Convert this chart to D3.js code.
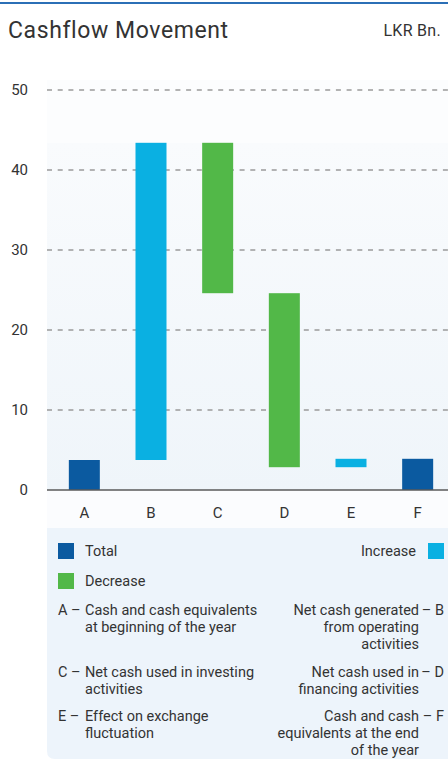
<!DOCTYPE html>
<html>
<head>
<meta charset="utf-8">
<script src="https://cdn.jsdelivr.net/npm/d3@7"></script>
<style>
  html, body { margin: 0; padding: 0; background: #ffffff; }
  svg { display: block; }
  text { font-family: Roboto, "Noto Sans", sans-serif; fill: #333; }
</style>
</head>
<body>
<svg id="chart" width="448" height="761"></svg>
<script>
// ---- data ----
const categories = ["A", "B", "C", "D", "E", "F"];
const lows  = [0, 3.75, 24.6, 2.85, 2.85, 0];
const highs = [3.75, 43.4, 43.4, 24.6, 3.9, 3.9];
const kinds = ["Total", "Increase", "Decrease", "Decrease", "Increase", "Total"];
const yTicks = [0, 10, 20, 30, 40, 50];
const legendLeft = [
  { key: "A", lines: ["Cash and cash equivalents", "at beginning of the year"] },
  { key: "C", lines: ["Net cash used in investing", "activities"] },
  { key: "E", lines: ["Effect on exchange", "fluctuation"] }
];
const legendRight = [
  { key: "B", lines: ["Net cash generated", "from operating", "activities"] },
  { key: "D", lines: ["Net cash used in", "financing activities"] },
  { key: "F", lines: ["Cash and cash", "equivalents at the end", "of the year"] }
];
const colors = { Total: "#0b5aa0", Increase: "#0ab0e2", Decrease: "#52b848" };

const svg = d3.select("#chart");

// top rule
svg.append("rect").attr("x", 0).attr("y", 2).attr("width", 448).attr("height", 2).attr("fill", "#2b6fb6");

// title
svg.append("text").attr("x", 8).attr("y", 38).attr("font-size", 23).attr("letter-spacing", 0.6).text("Cashflow Movement");
svg.append("text").attr("x", 441).attr("y", 36).attr("font-size", 16).attr("letter-spacing", 0.3).attr("text-anchor", "end").text("LKR Bn.");

// plot backgrounds
const defs = svg.append("defs");
const grad = defs.append("linearGradient").attr("id", "bg").attr("x1", 0).attr("y1", 0).attr("x2", 0).attr("y2", 1);
grad.append("stop").attr("offset", "0%").attr("stop-color", "#f9fbfd");
grad.append("stop").attr("offset", "100%").attr("stop-color", "#eff5fa");

const plotL = 47, plotR = 448;
svg.append("rect").attr("x", plotL).attr("y", 80).attr("width", plotR - plotL).attr("height", 63).attr("fill", "#fcfdfe");
svg.append("rect").attr("x", plotL).attr("y", 143).attr("width", plotR - plotL).attr("height", 347).attr("fill", "url(#bg)");
svg.append("rect").attr("x", plotL).attr("y", 490).attr("width", plotR - plotL).attr("height", 38).attr("fill", "#fbfcfe");

// scales
const y = d3.scaleLinear().domain([0, 50]).range([490, 90]);
const x = d3.scaleBand().domain(categories).range([51, 451]).paddingInner(0.535).paddingOuter(0.2675);

// gridlines
svg.append("g").selectAll("line").data(yTicks.filter(d => d > 0)).join("line")
  .attr("x1", plotL).attr("x2", plotR)
  .attr("y1", d => y(d)).attr("y2", d => y(d))
  .attr("stroke", "#9a9a9a").attr("stroke-width", 1.3).attr("stroke-dasharray", "5,5.7");

// y tick labels
svg.append("g").selectAll("text").data(yTicks).join("text")
  .attr("x", 28).attr("y", d => y(d)).attr("dy", "0.36em")
  .attr("text-anchor", "end").attr("font-size", 15).text(d => d);

// bars
svg.append("g").selectAll("rect").data(categories).join("rect")
  .attr("x", d => x(d))
  .attr("width", x.bandwidth())
  .attr("y", (d, i) => y(highs[i]))
  .attr("height", (d, i) => y(lows[i]) - y(highs[i]))
  .attr("fill", (d, i) => colors[kinds[i]]);

// baseline
svg.append("line").attr("x1", plotL).attr("x2", plotR).attr("y1", y(0)).attr("y2", y(0))
  .attr("stroke", "#5a5a5a").attr("stroke-width", 1.5);

// x labels
svg.append("g").selectAll("text").data(categories).join("text")
  .attr("x", d => x(d) + x.bandwidth() / 2).attr("y", 518)
  .attr("text-anchor", "middle").attr("font-size", 15).text(d => d);

// legend box
const bx = 47, by = 528, bw = 401, bh = 231, r = 8;
svg.append("path")
  .attr("d", `M${bx},${by} H${bx + bw} V${by + bh} H${bx + r} Q${bx},${by + bh} ${bx},${by + bh - r} Z`)
  .attr("fill", "#edf4fb");

const fs = 14.5;
const lg = svg.append("g");
// swatches
lg.append("rect").attr("x", 58).attr("y", 543).attr("width", 16).attr("height", 16).attr("fill", colors.Total);
lg.append("text").attr("x", 85).attr("y", 556).attr("font-size", fs).text("Total");
lg.append("rect").attr("x", 58).attr("y", 573).attr("width", 16).attr("height", 16).attr("fill", colors.Decrease);
lg.append("text").attr("x", 85).attr("y", 586).attr("font-size", fs).text("Decrease");
lg.append("rect").attr("x", 428).attr("y", 543).attr("width", 16).attr("height", 16).attr("fill", colors.Increase);
lg.append("text").attr("x", 416).attr("y", 556).attr("font-size", fs).attr("text-anchor", "end").text("Increase");

const rowY = [615, 677, 721];
const lh = 17;
legendLeft.forEach((item, i) => {
  lg.append("text").attr("x", 58).attr("y", rowY[i]).attr("font-size", fs).text(item.key + " –");
  item.lines.forEach((ln, j) => {
    lg.append("text").attr("x", 85).attr("y", rowY[i] + j * lh).attr("font-size", fs).text(ln);
  });
});
legendRight.forEach((item, i) => {
  lg.append("text").attr("x", 444).attr("y", rowY[i]).attr("font-size", fs).attr("text-anchor", "end").text("– " + item.key);
  item.lines.forEach((ln, j) => {
    lg.append("text").attr("x", 419).attr("y", rowY[i] + j * lh).attr("font-size", fs).attr("text-anchor", "end").text(ln);
  });
});
</script>
</body>
</html>
